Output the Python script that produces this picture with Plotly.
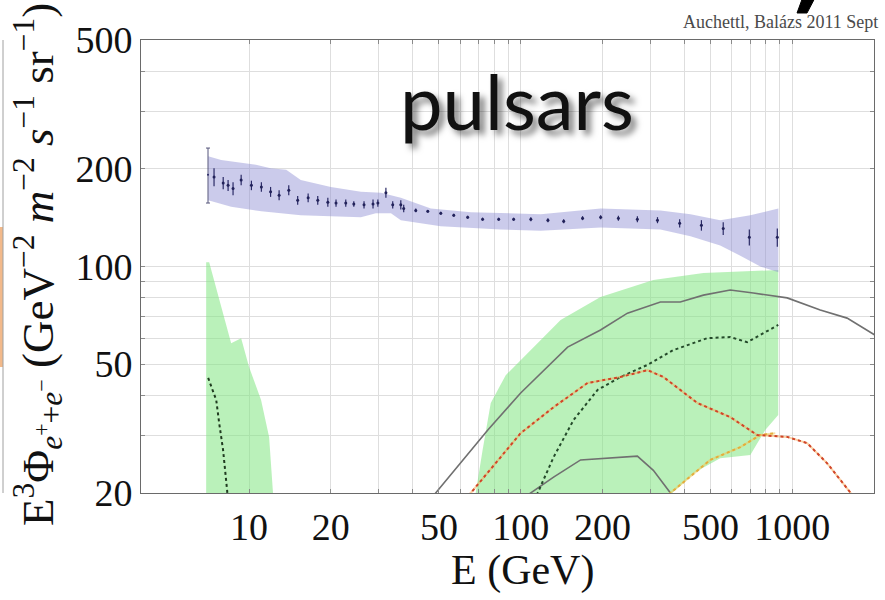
import math
import plotly.graph_objects as go

# ---- measured e+ + e- spectrum (E in GeV, E^3 * flux) ----
first_E = [7.06]
first_F = [192]
first_err_hi = [40]
first_err_lo = [35]

pts_E = [7.43, 8.03, 8.37, 8.73, 9.35, 10.2, 11.1, 12.0, 12.9, 14.0,
         15.1, 16.5, 17.9, 19.5, 20.9, 22.7, 24.3, 26.5, 28.6, 29.8,
         31.9, 33.8, 36.2, 37.1, 41.1, 45.5, 50.8, 56.7, 63.8, 72.4,
         83.0, 94.2, 109, 126, 144, 169, 197, 229, 269, 319,
         385, 463, 557, 695, 881]
pts_F = [189, 181, 178, 174, 185, 178, 176, 170, 166, 172,
         160, 163, 160, 158, 157, 157, 156, 155, 156, 157,
         169, 155, 155, 151, 149, 148, 146, 144, 142, 140,
         140, 140, 140, 139, 138, 141, 142, 141, 140, 139,
         136, 134, 131, 123, 123]
pts_err = [12, 8, 7, 8, 7, 6, 6, 6, 6, 6,
           5, 5, 5, 5, 4, 4, 3, 4, 5, 4,
           6, 4, 5, 4, 2, 1.5, 1.5, 1.5, 1.5, 1.5,
           1.5, 1.5, 2, 2, 2, 2, 2, 2.5, 3, 3,
           4, 5, 6, 7, 8]

# systematic band around the measurement
band_hi_E = [7.07, 7.89, 9.35, 10.6, 12.0, 13.7, 15.5, 20.0, 25.8, 30.6,
             36.2, 46.7, 65.5, 118.5, 197, 327, 422, 543, 701, 889]
band_hi_F = [219, 213, 209, 206, 201, 199, 185, 176, 170, 169,
             163, 151, 147, 145, 151, 149, 145, 139, 144, 151]
band_lo_E = [7.07, 8.59, 11.1, 13.1, 15.5, 25.8, 29.3, 33.3, 36.2, 50.8,
             84.4, 118.5, 197, 327, 422, 543, 644, 763, 889]
band_lo_F = [160, 153, 148, 146, 144, 142, 146, 146, 139, 133,
             130, 129, 132, 130, 124, 116, 108, 100, 96]

# pulsar fit regions (closed outlines)
green_low_E = [6.95, 6.95, 7.13, 7.76, 8.59, 9.35, 10.0, 11.07, 11.85, 12.25, 12.35]
green_low_F = [17.7, 103, 103, 78.8, 58.0, 60.1, 49.0, 38.7, 29.8, 20, 17.7]
green_high_E = [67.1, 68.3, 72.4, 77.6, 88.1, 106.1, 140.3, 196.8, 308, 471,
                888, 888, 795.6, 701, 543, 440, 356, 340]
green_high_F = [17.7, 20, 27.1, 37.9, 46.2, 54.1, 68.4, 80.5, 90.9, 95.5,
                97.5, 34.8, 31.3, 26.2, 25.6, 23.2, 19.8, 17.7]

# model curves
low_dash_E = [7.07, 7.57, 7.76, 8.02, 8.30, 8.36]
low_dash_F = [45.3, 38.7, 32.9, 27.2, 20.4, 19.0]

total_E = [44.8, 48.7, 60.1, 75.7, 100, 121.5, 148.9, 196.8, 247.3, 327,
           387, 471, 591, 719, 958, 1268, 1592, 2018, 2100]
total_F = [18.4, 20.0, 24.7, 31.3, 40.7, 47.9, 56.4, 63.7, 71.8, 77.7,
           77.7, 81.6, 84.6, 82.8, 80.0, 73.4, 69.3, 61.4, 60.5]

mid_dot_E = [108, 115.5, 132.2, 156.6, 191.9, 233.1, 293, 365, 487, 591, 683, 888]
mid_dot_F = [18.4, 20.0, 25.8, 33.6, 41.6, 45.6, 49.7, 55.2, 60.1, 60.6, 58.4, 66.0]

red_E = [60.1, 65.5, 100, 132.2, 176.3, 233.1, 293, 335.6, 447.5, 591,
         743, 958, 1135, 1345, 1634, 1748]
red_F = [18.4, 20, 30.6, 36.8, 43.7, 45.6, 47.9, 45.6, 37.9, 34.3,
         30.2, 29.8, 28.5, 24.7, 20.1, 18.4]

yellow_E = [332.6, 356, 499, 644, 762, 866]
yellow_F = [18.4, 20, 25.3, 27.7, 30.2, 30.6]

single_E = [94.3, 108.9, 132.2, 166.2, 201.8, 269, 308, 356, 371.5]
single_F = [18.4, 20, 22.4, 25.3, 25.6, 26.0, 23.5, 20, 18.4]

# axis ticks
x_grid = [10, 20, 30, 40, 50, 60, 70, 80, 90, 100,
          200, 300, 400, 500, 600, 700, 800, 900, 1000]
x_labels = {10: "10", 20: "20", 50: "50", 100: "100", 200: "200", 500: "500", 1000: "1000"}
y_grid = [20, 30, 40, 50, 60, 70, 80, 90, 100, 200, 300, 400, 500]
y_labels = {20: "20", 50: "50", 100: "100", 200: "200", 500: "500"}

W, H = 885, 600
L, R, T, B = 141, 11, 40, 107
PW, PH = W - L - R, H - T - B


def px(xp):
    return (xp - L) / PW


def py(yp):
    return (H - B - yp) / PH


SERIF = "Liberation Serif, Times New Roman, serif"

fig = go.Figure()

# shaded regions
fig.add_trace(go.Scatter(x=green_low_E, y=green_low_F, mode="lines", fill="toself",
                         fillcolor="rgba(130,230,130,0.55)", line=dict(width=0),
                         hoverinfo="skip", showlegend=False))
fig.add_trace(go.Scatter(x=green_high_E, y=green_high_F, mode="lines", fill="toself",
                         fillcolor="rgba(130,230,130,0.55)", line=dict(width=0),
                         hoverinfo="skip", showlegend=False))
fig.add_trace(go.Scatter(x=band_hi_E + band_lo_E[::-1], y=band_hi_F + band_lo_F[::-1],
                         mode="lines", fill="toself", fillcolor="rgba(140,140,210,0.45)",
                         line=dict(width=0), hoverinfo="skip", showlegend=False))

# model curves
fig.add_trace(go.Scatter(x=low_dash_E, y=low_dash_F, mode="lines",
                         line=dict(color="#1f3a1f", width=2, dash="dot"), showlegend=False))
fig.add_trace(go.Scatter(x=total_E, y=total_F, mode="lines",
                         line=dict(color="#707070", width=1.6), showlegend=False))
fig.add_trace(go.Scatter(x=single_E, y=single_F, mode="lines",
                         line=dict(color="#707070", width=1.6), showlegend=False))
fig.add_trace(go.Scatter(x=mid_dot_E, y=mid_dot_F, mode="lines",
                         line=dict(color="#244a2a", width=2, dash="dot"), showlegend=False))
# pale underlay gives the dotted warm curves their two-tone look
fig.add_trace(go.Scatter(x=yellow_E, y=yellow_F, mode="lines",
                         line=dict(color="rgba(240,200,90,0.55)", width=2), showlegend=False))
fig.add_trace(go.Scatter(x=yellow_E, y=yellow_F, mode="lines",
                         line=dict(color="#e3ad3c", width=2, dash="dot"), showlegend=False))
fig.add_trace(go.Scatter(x=red_E, y=red_F, mode="lines",
                         line=dict(color="rgba(245,170,90,0.55)", width=2), showlegend=False))
fig.add_trace(go.Scatter(x=red_E, y=red_F, mode="lines",
                         line=dict(color="#d0452a", width=2, dash="dot"), showlegend=False))

# data points
fig.add_trace(go.Scatter(x=first_E, y=first_F, mode="markers",
                         marker=dict(size=2, color="#2a2a66"),
                         error_y=dict(type="data", array=first_err_hi, arrayminus=first_err_lo,
                                      color="#55557a", thickness=1, width=2),
                         showlegend=False))
fig.add_trace(go.Scatter(x=pts_E, y=pts_F, mode="markers",
                         marker=dict(size=3, color="#22225a"),
                         error_y=dict(type="data", array=pts_err, color="#2a2a66",
                                      thickness=1.2, width=0),
                         showlegend=False))

axis_common = dict(
    type="log", showline=True, linecolor="#6a6a6a", linewidth=1, mirror="ticks",
    ticks="inside", ticklen=4, tickcolor="#8a8a8a", showgrid=True,
    gridcolor="#dedede", gridwidth=1, zeroline=False,
    tickfont=dict(family=SERIF, color="#111111"),
)

fig.update_xaxes(**axis_common, range=[math.log10(4), math.log10(2000)],
                 tickmode="array", tickvals=x_grid,
                 ticktext=[x_labels.get(v, "") for v in x_grid])
fig.update_xaxes(tickfont_size=38)
fig.update_yaxes(**axis_common, range=[math.log10(20), math.log10(500)],
                 tickmode="array", tickvals=y_grid,
                 ticktext=[y_labels.get(v, "") for v in y_grid])
fig.update_yaxes(tickfont_size=38)

annotations = [
    dict(text="pulsars", x=px(517), y=py(100), xref="paper", yref="paper",
         xanchor="center", yanchor="middle", showarrow=False,
         font=dict(family="Lato, Open Sans, sans-serif", size=76, color="#111111",
                   shadow="5px 5px 6px rgba(0,0,0,0.5)")),
    dict(text="Auchettl, Balázs 2011 Sept", x=px(880), y=py(22), xref="paper", yref="paper",
         xanchor="right", yanchor="middle", showarrow=False,
         font=dict(family=SERIF, size=18, color="#4a4a4a")),
    dict(text="E (GeV)", x=px(522), y=py(570), xref="paper", yref="paper",
         xanchor="center", yanchor="middle", showarrow=False,
         font=dict(family=SERIF, size=42, color="#111111")),
    dict(text="E<sup>3</sup>Φ<sub><i>e</i><sup>+</sup>+<i>e</i><sup>−</sup></sub> "
              "(GeV<sup>−2</sup> <i>m</i><sup>−2</sup> <i>s</i><sup>−1</sup> sr<sup>−1</sup>)",
         x=px(37), y=py(265), xref="paper", yref="paper", textangle=-90,
         xanchor="center", yanchor="middle", showarrow=False,
         font=dict(family=SERIF, size=45, color="#111111")),
]

# tail of a large heading glyph from the slide above the chart
stroke = [(804, -6), (817, -6), (807, 13), (797, 13)]
stroke_path = "M " + " L ".join(f"{px(a):.4f},{py(b):.4f}" for a, b in stroke) + " Z"

shapes = [
    dict(type="rect", xref="paper", yref="paper", x0=px(0), x1=px(3), y0=py(367), y1=py(227),
         fillcolor="#f2b98a", line=dict(width=0), layer="below"),
    dict(type="line", xref="paper", yref="paper", x0=px(3), x1=px(3), y0=py(493), y1=py(40),
         line=dict(color="#a0a0a0", width=1)),
    dict(type="path", xref="paper", yref="paper", path=stroke_path,
         fillcolor="#000000", line=dict(color="#000000", width=1)),
]

fig.update_layout(
    width=W, height=H, margin=dict(l=L, r=R, t=T, b=B),
    paper_bgcolor="white", plot_bgcolor="white",
    annotations=annotations, shapes=shapes, showlegend=False,
)

fig.write_html("out.html")
